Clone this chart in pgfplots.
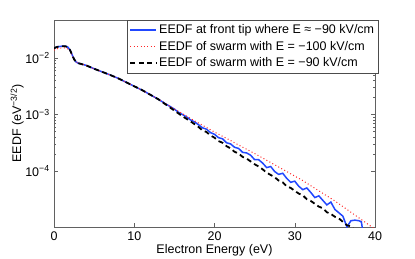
\documentclass[border=0pt]{standalone}
\usepackage{fontspec}
\setmainfont{Liberation Sans}
\usepackage{pgfplots}
\pgfplotsset{compat=1.18}
\definecolor{mblue}{rgb}{0.13,0.28,1}
\definecolor{axgray}{gray}{0.38}
\definecolor{mred}{rgb}{1,0.15,0.15}
\begin{document}
\fontsize{12.5bp}{15bp}\selectfont
\begin{tikzpicture}
\begin{axis}[
  name=ax,
  scale only axis,
  width=321bp, height=207bp,
  xmin=0, xmax=40,
  ymode=log,
  ymin=1.02e-5, ymax=0.0471,
  xtick={0,10,20,30,40},
  xticklabels={0,10,20,30,40},
  ytick={1e-4,1e-3,1e-2},
  yticklabels={10\textsuperscript{−4},10\textsuperscript{−3},10\textsuperscript{−2}},
  tick align=inside,
  major tick length=4bp,
  minor tick length=2.2bp,
  axis line style={axgray, line width=0.6bp},
  every tick/.style={axgray, line width=0.5bp},
  tick label style={font=\fontsize{12.5bp}{15bp}\selectfont, text=black},
  xlabel={Electron Energy (eV)},
  ylabel={EEDF (eV\textsuperscript{−3/2})},
  label style={font=\fontsize{12.5bp}{15bp}\selectfont},
  xlabel style={at={(axis description cs:0.5,0)}, anchor=north, inner sep=0pt, yshift=-17bp},
  ylabel style={at={(axis description cs:-0.115,0.5)}, anchor=center},
  legend style={at={(rel axis cs:1.012,1)}, anchor=north east, draw=black!70,
    fill=white, font=\fontsize{12.5bp}{15bp}\selectfont, row sep=1.5bp, inner sep=2.5bp},
  legend cell align=left,
  legend image code/.code={\draw[#1] (0bp,0bp) -- (26bp,0bp);},
]
% Blue: EEDF at front tip
\addplot[draw=mblue, line width=1.5bp, solid] coordinates {
(0,1.479e-2) (0.25,1.549e-2) (0.5,1.585e-2) (0.75,1.603e-2) (1.0,1.622e-2) (1.25,1.622e-2)
(1.5,1.603e-2) (1.75,1.549e-2) (2.0,1.380e-2) (2.25,1.148e-2) (2.5,9.550e-3) (2.75,8.511e-3)
(3.0,8.128e-3) (3.5,7.762e-3) (4,7.413e-3) (5,6.457e-3) (6,5.690e-3) (7,5.012e-3) (8,4.365e-3)
(9,3.715e-3) (10,3.162e-3) (11,2.692e-3) (12,2.239e-3) (13,1.862e-3)
(14,1.514e-3) (14.5,1.380e-3) (15,1.245e-3) (15.5,1.096e-3) (16,1.000e-3) (16.5,9.120e-4)
(17,8.040e-4) (17.5,7.413e-4) (18,6.607e-4) (18.5,5.820e-4) (19,5.495e-4) (19.5,4.786e-4)
(20,4.467e-4) (20.5,3.890e-4) (21,3.715e-4) (21.5,3.162e-4) (22,3.020e-4) (22.5,2.630e-4)
(23,2.512e-4) (23.5,2.138e-4) (24,2.089e-4) (24.5,1.905e-4) (25,1.585e-4) (25.5,1.585e-4)
(26,1.380e-4) (26.5,1.148e-4) (27,1.202e-4) (27.5,9.772e-5) (28,8.710e-5) (28.5,9.120e-5)
(29,7.413e-5) (29.5,6.310e-5) (30,6.607e-5) (30.5,5.370e-5) (31,4.677e-5) (31.5,5.012e-5)
(32,4.169e-5) (32.5,3.388e-5) (33,3.631e-5) (33.5,3.020e-5) (34,2.512e-5) (34.5,2.818e-5)
(35,2.089e-5) (35.5,1.820e-5) (36,1.585e-5) (36.5,1.023e-5) (37,1.318e-5) (37.5,1.349e-5)
(38,1.318e-5) (38.3,1.259e-5) (38.5,8.318e-6)
};
\addlegendentry{EEDF at front tip where E ≈ −90 kV/cm}
% Red: swarm E = -100 kV/cm
\addplot[draw=mred, line width=1bp, dash pattern=on 1bp off 2.4bp] coordinates {
(0,1.380e-2) (0.5,1.479e-2) (1,1.514e-2) (1.5,1.514e-2) (2,1.349e-2) (2.5,9.333e-3)
(3,8.128e-3) (3.5,7.762e-3) (4,7.413e-3) (5,6.457e-3) (6,5.690e-3) (7,5.012e-3) (8,4.365e-3)
(9,3.715e-3) (10,3.162e-3) (11,2.692e-3) (12,2.239e-3) (13,1.862e-3) (14,1.531e-3)
(15,1.259e-3) (16,1.035e-3) (17,8.511e-4) (18,7.079e-4) (19,5.888e-4) (20,4.898e-4)
(21,4.121e-4) (22,3.467e-4) (23,2.884e-4) (24,2.427e-4) (25,2.042e-4) (26,1.698e-4)
(27,1.413e-4) (28,1.175e-4) (29,9.772e-5) (30,8.128e-5) (31,6.761e-5) (32,5.495e-5)
(33,4.467e-5) (34,3.631e-5) (35,2.951e-5) (36,2.344e-5) (37,1.862e-5) (38,1.479e-5)
(39,1.175e-5) (40,9.333e-6)
};
\addlegendentry{EEDF of swarm with E = −100 kV/cm}
% Black: swarm E = -90 kV/cm
\addplot[draw=black, line width=1.8bp, dash pattern=on 5bp off 3.5bp] coordinates {
(0,1.479e-2) (0.25,1.549e-2) (0.5,1.585e-2) (0.75,1.603e-2) (1.0,1.622e-2) (1.25,1.622e-2)
(1.5,1.603e-2) (1.75,1.549e-2) (2.0,1.380e-2) (2.25,1.148e-2) (2.5,9.550e-3) (2.75,8.511e-3)
(3.0,8.128e-3) (3.5,7.762e-3) (4,7.413e-3) (5,6.457e-3) (6,5.690e-3) (7,5.012e-3) (8,4.365e-3)
(9,3.715e-3) (10,3.162e-3) (11,2.692e-3) (12,2.239e-3) (13,1.862e-3)
(14,1.479e-3) (15,1.175e-3) (16,9.333e-4) (17,7.586e-4) (18,6.026e-4) (18.5,5.248e-4)
(19,4.898e-4) (19.5,4.266e-4) (20,3.890e-4) (20.5,3.388e-4) (21,3.162e-4) (21.5,2.754e-4)
(22,2.512e-4) (22.5,2.188e-4) (23,2.042e-4) (23.5,1.778e-4) (24,1.660e-4) (24.5,1.479e-4)
(25,1.318e-4) (25.5,1.202e-4) (26,1.072e-4) (26.5,9.333e-5) (27,8.511e-5) (27.5,7.762e-5)
(28,6.761e-5) (28.5,6.310e-5) (29,5.370e-5) (29.5,5.012e-5) (30,4.467e-5) (30.5,3.981e-5)
(31,3.715e-5) (31.5,3.162e-5) (32,2.951e-5) (32.5,2.630e-5) (33,2.344e-5) (33.5,2.188e-5)
(34,1.862e-5) (34.5,1.738e-5) (35,1.549e-5) (35.5,1.445e-5) (36,1.259e-5) (36.5,1.096e-5)
(37,1.047e-5) (37.5,8.710e-6)
};
\addlegendentry{EEDF of swarm with E = −90 kV/cm}
\end{axis}
\path ([shift={(-54bp,-31bp)}]ax.south west) rectangle ([shift={(40bp,20bp)}]ax.north east);
\end{tikzpicture}
\end{document}
